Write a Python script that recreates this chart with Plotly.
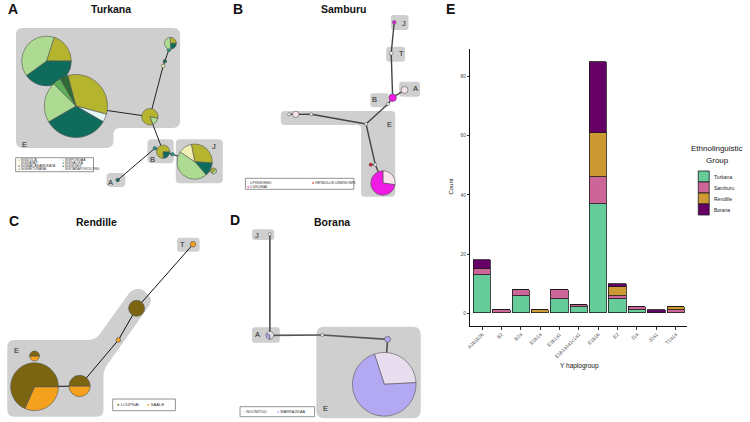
import plotly.graph_objects as go
import numpy as np

W, H = 750, 422
FONT = "Liberation Sans, Arial, sans-serif"

# ================= DATA =================
# Panel E: stacked bar chart
haplogroups = ["A1b1b2b", "B2", "B2a", "E1b1a", "E1b1a1", "E1b1a1a1c1a1",
               "E1b1b", "E2", "J1a", "J2a1", "T1a1a"]
ethno_groups = ["Turkana", "Samburu", "Rendille", "Borana"]
turkana_counts = [13, 0, 6, 0, 5, 2, 37, 5, 1, 0, 0]
samburu_counts = [2, 1, 2, 0, 3, 1, 9, 1, 1, 0, 1]
rendille_counts = [0, 0, 0, 1, 0, 0, 15, 3, 0, 0, 1]
borana_counts = [3, 0, 0, 0, 0, 0, 24, 1, 0, 1, 0]
count_ticks = [0, 20, 40, 60, 80]

# Panel A: Turkana network (node -> clan counts in slice order)
turkana_clans = ["NGIDOCA", "NGIKATAP", "NGIMACARAMUKATA", "NGIMETURANA",
                 "NGIPONGAA", "NGISALIKA", "NGISIGER", "NGITARAPOKOLONG"]
turkana_nodes = {
    "e1": [("NGIDOCA", 1), ("NGISIGER", 2), ("NGIPONGAA", 2)],
    "e2": [("NGIDOCA", 8), ("NGITARAPOKOLONG", 1), ("NGISIGER", 8),
           ("NGIPONGAA", 5), ("NGIMETURANA", 1), ("NGIMACARAMUKATA", 1)],
    "e3": [("NGIPONGAA", 1), ("NGIDOCA", 5)],
    "e4": [("NGIKATAP", 1)],
    "e5": [("NGISIGER", 1)],
    "e6": [("NGISALIKA", 1)],
    "e7": [("NGIDOCA", 1), ("NGISIGER", 1), ("NGIPONGAA", 2)],
    "b1": [("NGISIGER", 1), ("NGIDOCA", 3)],
    "b2": [("NGISALIKA", 1)],
    "a1": [("NGISIGER", 1)],
    "j0": [("NGISALIKA", 1)],
    "j1": [("NGIDOCA", 7), ("NGISIGER", 3), ("NGIPONGAA", 11), ("NGIKATAP", 3)],
    "j2": [("NGIPONGAA", 1), ("NGIDOCA", 1)],
}
turkana_links = [("e1", "e2"), ("e2", "e3"), ("e3", "e4"), ("e4", "e5"), ("e5", "e6"),
                 ("e6", "e7"), ("e3", "b1"), ("b1", "b2"), ("b2", "a1"),
                 ("b1", "j0"), ("j0", "j1")]

# Panel B: Samburu network (empty list = median vector)
samburu_clans = ["LPISIKISHU", "LUKUMAI", "RENDILLE-UNKNOWN"]
samburu_nodes = {
    "j": [("LUKUMAI", 1)],
    "t": [],
    "b": [("LUKUMAI", 1)],
    "a": [("LPISIKISHU", 1)],
    "b2": [],
    "e0": [],
    "e1": [],
    "e2": [("LPISIKISHU", 1)],
    "e3": [],
    "e4": [],
    "e5": [("RENDILLE-UNKNOWN", 1)],
    "e6": [("LPISIKISHU", 3), ("LUKUMAI", 8)],
}
samburu_links = [("j", "t"), ("t", "b"), ("b", "a"), ("b", "b2"), ("b2", "e0"),
                 ("e0", "e1"), ("e1", "e2"), ("e2", "e3"), ("e0", "e4"),
                 ("e4", "e6"), ("e4", "e5")]

# Panel C: Rendille network
rendille_clans = ["LOUPSAI", "SAALE"]
rendille_nodes = {
    "t": [("SAALE", 1)],
    "e1": [("LOUPSAI", 1)],
    "e2": [("SAALE", 1)],
    "e3": [("SAALE", 1), ("LOUPSAI", 1)],
    "e4": [("SAALE", 6), ("LOUPSAI", 13)],
    "e5": [("SAALE", 1), ("LOUPSAI", 1)],
}
rendille_links = [("t", "e1"), ("e1", "e2"), ("e2", "e3"), ("e3", "e4")]

# Panel D: Borana network
borana_clans = ["NOONITUU", "WARRAJIDAA"]
borana_nodes = {
    "j": [],
    "a": [("WARRAJIDAA", 1), ("NOONITUU", 2)],
    "m": [],
    "e1": [("WARRAJIDAA", 1)],
    "e2": [("NOONITUU", 7), ("WARRAJIDAA", 17)],
}
borana_links = [("j", "a"), ("a", "m"), ("m", "e1"), ("e1", "e2")]

# ================= STYLE / LAYOUT =================
ethno_colors = ["#66CC99", "#CC6699", "#CC9933", "#660066"]
turkana_colors = ["#B5B42E", "#F2EFB5", "#2F6B34", "#5FAF5A",
                  "#AEDB92", "#1E9A8A", "#0F6B5C", "#E3F5F5"]
samburu_colors = ["#F7E4EC", "#F01BE4", "#E8141B"]
rendille_colors = ["#7B6511", "#F4A11E"]
borana_colors = ["#E7DDEF", "#B2A9F2"]
GRAY = "#CFCFCF"

# node placement in pixels: x, y, radius, pie rotation
turkana_pos = {
    "e1": (42.7, 61, 25, 18), "e2": (72.3, 106, 31.7, -15), "e3": (146.7, 116.7, 8.3, 100),
    "e4": (160, 66, 1.8, 0), "e5": (161.7, 61.2, 1.8, 0), "e6": (165.7, 50, 1.8, 0),
    "e7": (167.3, 43.3, 6, 0), "b1": (160, 151.7, 6.7, 90), "b2": (151.7, 148.3, 1.8, 0),
    "a1": (114.3, 180, 1.8, 0), "j0": (169.3, 154.3, 1.8, 0), "j1": (191.7, 161.7, 17.7, -11),
    "j2": (210.7, 171, 3, 45),
}
samburu_pos = {
    "j": (392.3, 22.3, 1.8, 0), "t": (389.3, 53.3, 1.8, 0), "b": (390.7, 97.7, 3.8, 0),
    "a": (402.7, 90, 3.5, 0), "b2": (386, 104, 1.5, 0), "e0": (364, 124, 1.5, 0),
    "e1": (309, 114.3, 1.5, 0), "e2": (293.3, 114.3, 3.2, 0), "e3": (286.7, 114.3, 1.5, 0),
    "e4": (373.3, 164.7, 1.6, 0), "e5": (368.7, 164.7, 1.6, 0), "e6": (381, 183, 12.3, 0),
}
rendille_pos = {
    "t": (190, 244.3, 2.8, 0), "e1": (133.3, 308.3, 8, 0), "e2": (115, 340, 2.3, 0),
    "e3": (76, 386, 10.7, 90), "e4": (30.7, 386.7, 24, 90), "e5": (30.7, 356, 5, 90),
}
borana_pos = {
    "j": (267.3, 234.3, 1.5, 0), "a": (267.3, 335.3, 4, 180), "m": (320, 335, 1.5, 0),
    "e1": (385.7, 339.3, 3, 0), "e2": (382.3, 384.3, 32, -18),
}

fig = go.Figure()
shapes = []
annotations = []


def rounded_path(pts, r):
    n = len(pts)
    segs = []
    for i in range(n):
        p = np.array(pts[i], float)
        a = np.array(pts[i - 1], float)
        b = np.array(pts[(i + 1) % n], float)
        la, lb = np.linalg.norm(a - p), np.linalg.norm(b - p)
        rr = min(r, la / 2, lb / 2)
        p1 = p + (a - p) / la * rr
        p2 = p + (b - p) / lb * rr
        segs.append((p1, p, p2))
    d = f"M{segs[0][0][0]:.2f},{segs[0][0][1]:.2f}"
    for p1, p, p2 in segs:
        d += f" L{p1[0]:.2f},{p1[1]:.2f} Q{p[0]:.2f},{p[1]:.2f} {p2[0]:.2f},{p2[1]:.2f}"
    return d + " Z"


def region(pts, r=5):
    shapes.append(dict(type="path", path=rounded_path(pts, r), xref="x", yref="y",
                       fillcolor=GRAY, line=dict(width=0), layer="below"))


def box(x0, y0, x1, y1, r=4):
    region([(x0, y0), (x1, y0), (x1, y1), (x0, y1)], r)


def text(x, y, s, size, bold=False, color="#222", xanchor="center", angle=0):
    annotations.append(dict(x=x, y=y, xref="x", yref="y", text=f"<b>{s}</b>" if bold else s,
                            showarrow=False, xanchor=xanchor, yanchor="middle", textangle=angle,
                            font=dict(family=FONT, size=size, color=color), borderpad=0))


def draw_network(nodes, pos, links, clans, colors, ecol, ew):
    cmap = dict(zip(clans, colors))
    for a, b in links:
        fig.add_trace(go.Scatter(x=[pos[a][0], pos[b][0]], y=[pos[a][1], pos[b][1]],
                                 mode="lines", line=dict(color=ecol, width=ew),
                                 hoverinfo="skip", showlegend=False, xaxis="x", yaxis="y"))
    for nid, comp in nodes.items():
        x, y, r, rot = pos[nid]
        if len(comp) <= 1:
            col = cmap[comp[0][0]] if comp else "white"
            fig.add_trace(go.Scatter(x=[x], y=[y], mode="markers",
                                     marker=dict(size=2 * r, color=col, line=dict(color="#555", width=0.6)),
                                     hoverinfo="skip", showlegend=False, xaxis="x", yaxis="y"))
        else:
            fig.add_trace(go.Pie(values=[c for _, c in comp], labels=[g for g, _ in comp],
                                 marker=dict(colors=[cmap[g] for g, _ in comp],
                                             line=dict(color="#555", width=0.6)),
                                 domain=dict(x=[(x - r) / W, (x + r) / W],
                                             y=[1 - (y + r) / H, 1 - (y - r) / H]),
                                 rotation=rot, direction="clockwise", sort=False,
                                 textinfo="none", hoverinfo="skip", showlegend=False))


def net_legend(x0, y0, x1, y1, clans, colors, xs, ys, per_col, size):
    shapes.append(dict(type="rect", x0=x0, y0=y0, x1=x1, y1=y1, xref="x", yref="y",
                       fillcolor="white", line=dict(color="#777", width=0.8), layer="above"))
    for i, (c, col) in enumerate(zip(clans, colors)):
        text(xs[i // per_col], ys[i % per_col],
             f"<span style='color:{col}'>●</span> {c}", size, color="#333", xanchor="left")


# ---------- Panel A: Turkana ----------
region([(12, 28), (177, 28), (177, 128), (110, 128), (110, 148), (12, 148)], 7)
box(144.3, 139.3, 170.7, 163.3)
box(172.7, 139.3, 220, 183.3)
box(103, 173, 122, 187)
draw_network(turkana_nodes, turkana_pos, turkana_links, turkana_clans, turkana_colors, "#222", 1.0)
text(21, 144, "E", 7.5); text(149, 159, "B", 7.5); text(211, 146, "J", 7.5); text(107.5, 182, "A", 7.5)
net_legend(11.7, 157.7, 90, 171.7, turkana_clans, turkana_colors, [13.5, 57.5],
           [160.4, 163.2, 166.0, 168.8], 4, 3.4)

# ---------- Panel B: Samburu ----------
box(389, 15, 406.7, 30, 3)
box(384.3, 46.7, 403.3, 61.7, 3)
box(397.3, 81.7, 418.3, 96.7, 3)
box(368.3, 93.3, 386.7, 107.3, 3)
region([(278.3, 111), (393.3, 111), (393.3, 196.7), (359, 196.7), (359, 125), (278.3, 125)], 4)
draw_network(samburu_nodes, samburu_pos, samburu_links, samburu_clans, samburu_colors, "#444", 1.4)
text(402.3, 23.3, "J", 7.5); text(399.3, 53.3, "T", 7.5); text(413.3, 88.3, "A", 7.5)
text(372.7, 99.3, "B", 7.5); text(387.3, 124.3, "E", 7.5)
net_legend(242.7, 178.3, 351.7, 189.3, samburu_clans, samburu_colors, [243.5, 308.5],
           [182.5, 186.9], 2, 3.8)

# ---------- Panel C: Rendille ----------
box(174, 237.7, 196.7, 251.7, 3)
region([(3.3, 340), (92, 340), (128, 290), (138, 288), (150, 300), (100, 370),
        (100, 416.7), (3.3, 416.7)], 7)
draw_network(rendille_nodes, rendille_pos, rendille_links, rendille_clans, rendille_colors, "#111", 1.0)
text(179, 244.3, "T", 7.5); text(12.7, 350.7, "E", 7.5)
net_legend(109.3, 399, 172.3, 410.7, rendille_clans, rendille_colors, [112.5, 142.5],
           [404.9], 1, 4.2)

# ---------- Panel D: Borana ----------
box(249.3, 229.3, 271.7, 240, 3)
box(249.3, 327.3, 277.3, 342.7, 3)
box(314, 326.7, 419, 418.3, 8)
draw_network(borana_nodes, borana_pos, borana_links, borana_clans, borana_colors, "#555", 1.7)
text(254, 235, "J", 7.5); text(255, 334.7, "A", 7.5); text(323.3, 408.3, "E", 7.5)
net_legend(237.3, 406.7, 312.3, 416.7, borana_clans, borana_colors, [239.5, 273.5],
           [411.8], 1, 3.8)

# ---------- Panel letters and titles ----------
for lx, ly, lt in [(9.2, 8.5, "A"), (235, 8.5, "B"), (10.5, 221.3, "C"), (232, 220, "D"), (448.7, 8.7, "E")]:
    text(lx, ly, lt, 14, bold=True, color="#111")
for tx, ty, tt in [(108, 8.5, "Turkana"), (341.7, 8.5, "Samburu"), (93.3, 221.7, "Rendille"),
                   (329.3, 221.7, "Borana")]:
    text(tx, ty, tt, 10.5, bold=True, color="#111")

# ---------- Panel E: bars ----------
for name, vals, col in zip(ethno_groups, [turkana_counts, samburu_counts, rendille_counts, borana_counts],
                           ethno_colors):
    fig.add_trace(go.Bar(x=haplogroups, y=vals, name=name, width=0.9,
                         marker=dict(color=col, line=dict(color="#1a1a1a", width=0.8)),
                         xaxis="x2", yaxis="y2", showlegend=False))

text(449, 187, "Count", 6, color="#111", angle=-90)
text(579, 366, "Y haplogroup", 6.5, color="#111")

# manual legend for panel E
text(717, 148, "Ethnolinguistic", 8, color="#111")
text(717, 160, "Group", 8, color="#111")
for i, (name, col) in enumerate(zip(ethno_groups, ethno_colors)):
    y0 = 171 + i * 11
    shapes.append(dict(type="rect", x0=698, x1=709, y0=y0, y1=y0 + 11, xref="x", yref="y",
                       fillcolor=col, line=dict(color="#1a1a1a", width=0.8), layer="above"))
    text(713, y0 + 5.5, name, 5, color="#222", xanchor="left")

fig.update_layout(
    width=W, height=H, margin=dict(l=0, r=0, t=0, b=0),
    paper_bgcolor="white", plot_bgcolor="rgba(0,0,0,0)",
    showlegend=False, barmode="stack", bargap=0,
    font=dict(family=FONT),
    xaxis=dict(domain=[0, 1], range=[0, W], visible=False, fixedrange=True),
    yaxis=dict(domain=[0, 1], range=[H, 0], visible=False, fixedrange=True),
    xaxis2=dict(domain=[469 / W, 687 / W], anchor="y2", type="category", range=[-0.6, 10.6],
                showline=True, linecolor="#111", linewidth=1, ticks="outside", ticklen=2.5,
                tickcolor="#333", tickangle=-45, tickfont=dict(size=5, color="#4d4d4d", family=FONT),
                showgrid=False, zeroline=False),
    yaxis2=dict(domain=[1 - 326 / H, 1 - 49 / H], anchor="x2", range=[-4.25, 89.25],
                tickvals=count_ticks, showline=True, linecolor="#111", linewidth=1,
                ticks="outside", ticklen=2.5, tickcolor="#333",
                tickfont=dict(size=5, color="#4d4d4d", family=FONT),
                showgrid=False, zeroline=False),
    shapes=shapes, annotations=annotations,
)

fig.write_html("out.html", config={"displayModeBar": False},
               post_script="document.body.style.margin='0';document.body.style.padding='0';")
